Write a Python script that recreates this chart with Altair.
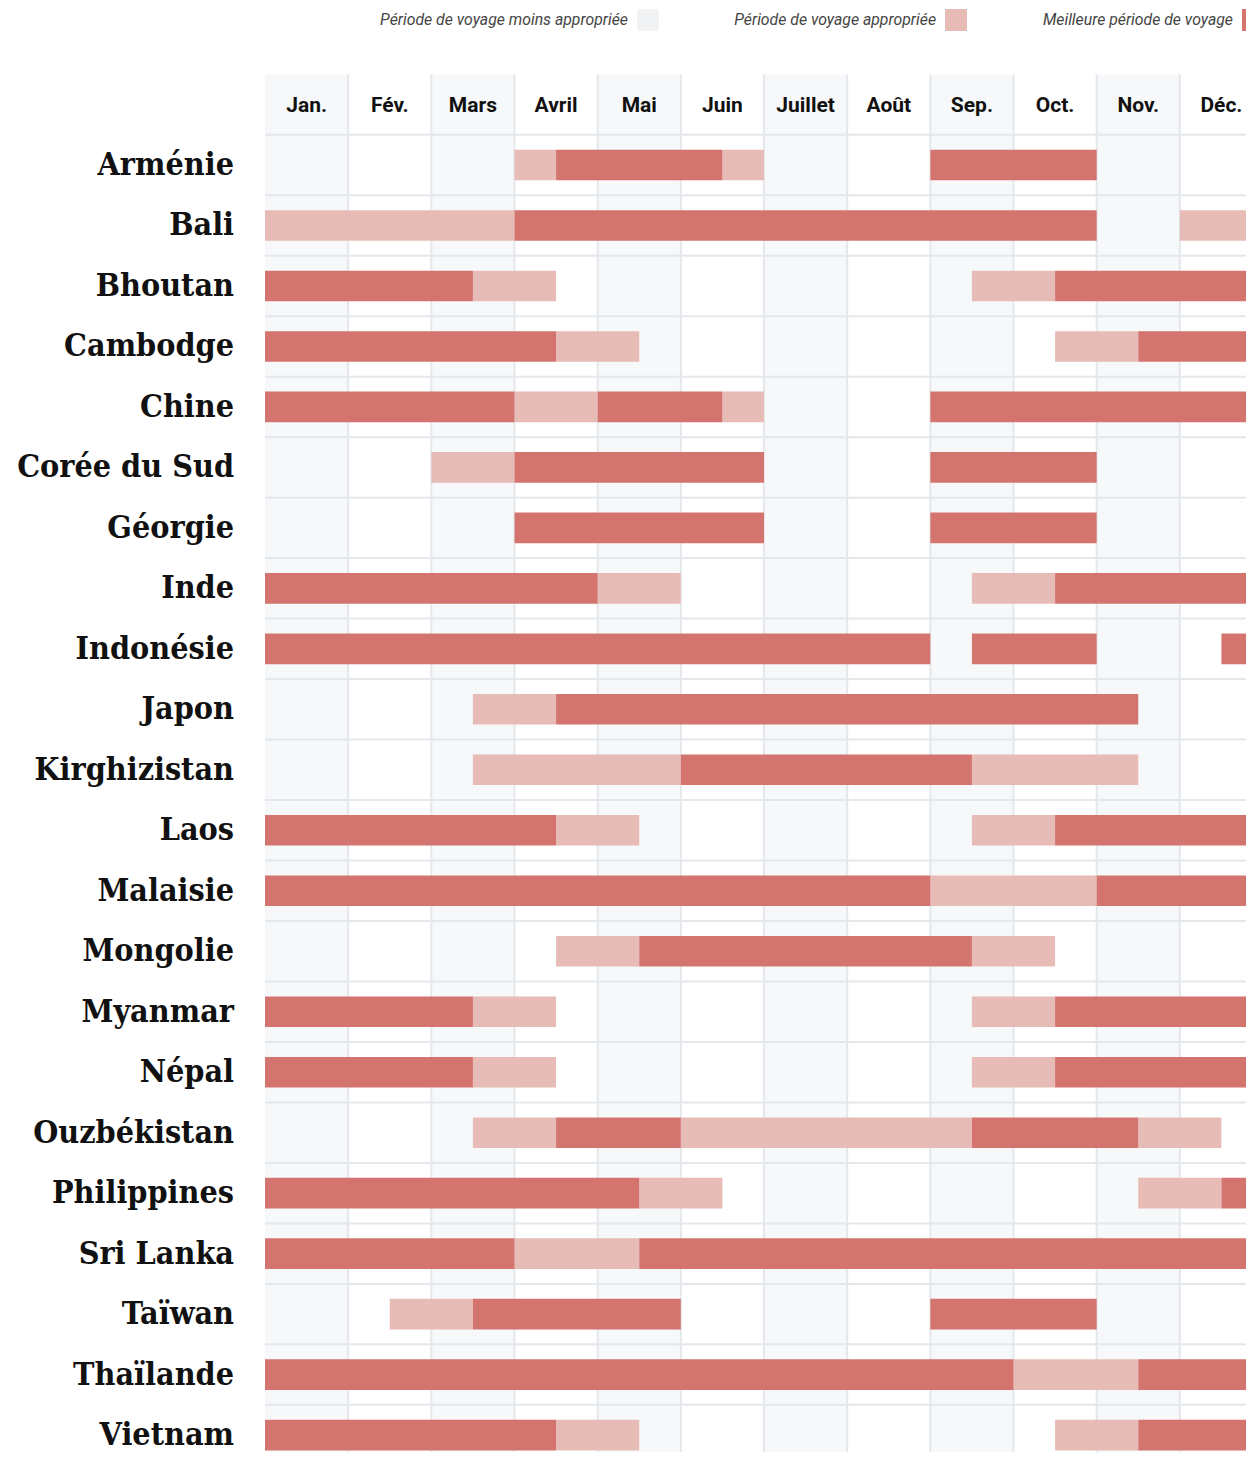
import altair as alt
import pandas as pd

countries = ["Arménie", "Bali", "Bhoutan", "Cambodge", "Chine", "Corée du Sud", "Géorgie",
             "Inde", "Indonésie", "Japon", "Kirghizistan", "Laos", "Malaisie", "Mongolie",
             "Myanmar", "Népal", "Ouzbékistan", "Philippines", "Sri Lanka", "Taïwan",
             "Thaïlande", "Vietnam"]
months = ["Jan.", "Fév.", "Mars", "Avril", "Mai", "Juin", "Juillet", "Août",
          "Sep.", "Oct.", "Nov.", "Déc."]

# (country, start month, end month) ; months counted from 0 = start of January
best_periods = [
    ("Arménie", 3.5, 5.5), ("Arménie", 8, 10),
    ("Bali", 3, 10),
    ("Bhoutan", 0, 2.5), ("Bhoutan", 9.5, 12),
    ("Cambodge", 0, 3.5), ("Cambodge", 10.5, 12),
    ("Chine", 0, 3), ("Chine", 4, 5.5), ("Chine", 8, 12),
    ("Corée du Sud", 3, 6), ("Corée du Sud", 8, 10),
    ("Géorgie", 3, 6), ("Géorgie", 8, 10),
    ("Inde", 0, 4), ("Inde", 9.5, 12),
    ("Indonésie", 0, 8), ("Indonésie", 8.5, 10), ("Indonésie", 11.5, 12),
    ("Japon", 3.5, 10.5),
    ("Kirghizistan", 5, 8.5),
    ("Laos", 0, 3.5), ("Laos", 9.5, 12),
    ("Malaisie", 0, 8), ("Malaisie", 10, 12),
    ("Mongolie", 4.5, 8.5),
    ("Myanmar", 0, 2.5), ("Myanmar", 9.5, 12),
    ("Népal", 0, 2.5), ("Népal", 9.5, 12),
    ("Ouzbékistan", 3.5, 5), ("Ouzbékistan", 8.5, 10.5),
    ("Philippines", 0, 4.5), ("Philippines", 11.5, 12),
    ("Sri Lanka", 0, 3), ("Sri Lanka", 4.5, 12),
    ("Taïwan", 2.5, 5), ("Taïwan", 8, 10),
    ("Thaïlande", 0, 9), ("Thaïlande", 10.5, 12),
    ("Vietnam", 0, 3.5), ("Vietnam", 10.5, 12),
]
good_periods = [
    ("Arménie", 3, 3.5), ("Arménie", 5.5, 6),
    ("Bali", 0, 3), ("Bali", 11, 12),
    ("Bhoutan", 2.5, 3.5), ("Bhoutan", 8.5, 9.5),
    ("Cambodge", 3.5, 4.5), ("Cambodge", 9.5, 10.5),
    ("Chine", 3, 4), ("Chine", 5.5, 6),
    ("Corée du Sud", 2, 3),
    ("Inde", 4, 5), ("Inde", 8.5, 9.5),
    ("Japon", 2.5, 3.5),
    ("Kirghizistan", 2.5, 5), ("Kirghizistan", 8.5, 10.5),
    ("Laos", 3.5, 4.5), ("Laos", 8.5, 9.5),
    ("Malaisie", 8, 10),
    ("Mongolie", 3.5, 4.5), ("Mongolie", 8.5, 9.5),
    ("Myanmar", 2.5, 3.5), ("Myanmar", 8.5, 9.5),
    ("Népal", 2.5, 3.5), ("Népal", 8.5, 9.5),
    ("Ouzbékistan", 2.5, 3.5), ("Ouzbékistan", 5, 8.5), ("Ouzbékistan", 10.5, 11.5),
    ("Philippines", 4.5, 5.5), ("Philippines", 10.5, 11.5),
    ("Sri Lanka", 3, 4.5),
    ("Taïwan", 1.5, 2.5),
    ("Thaïlande", 9, 10.5),
    ("Vietnam", 3.5, 4.5), ("Vietnam", 9.5, 10.5),
]
legend_labels = ["Période de voyage moins appropriée", "Période de voyage appropriée",
                 "Meilleure période de voyage"]

DARK = "#d4746f"
LIGHT = "#e8bcb6"
LESS = "#f2f3f5"
SHADE = "#f7f8fa"
GRID = "#e4e7eb"

row_of = {c: i for i, c in enumerate(countries)}
HALF = 0.253

rows = []
for kind, lst in (("good", good_periods), ("best", best_periods)):
    for c, s, e in lst:
        rows.append({"country": c, "start": s, "end": e, "kind": kind,
                     "top": row_of[c] - HALF, "bottom": row_of[c] + HALF})
seg = pd.DataFrame(rows)

cols = pd.DataFrame({"m": list(range(12)), "label": months})
cols["start"] = cols["m"]
cols["end"] = cols["m"] + 1
cols["mid"] = cols["m"] + 0.5
cols["shade"] = cols["m"] % 2 == 0
cols["top"] = -1.5
cols["bottom"] = 22.5
cols["hdr"] = -1

vlines = pd.DataFrame({"x": list(range(1, 13))})
vlines["top"] = -1.5
vlines["bottom"] = 22.5
hlines = pd.DataFrame({"y": [i + 0.5 for i in range(-1, 22)]})
hlines["x0"] = 0
hlines["x1"] = 12

names = pd.DataFrame({"country": countries, "row": list(range(len(countries)))})

xs = alt.Scale(domain=[0, 12], range=[257, 1255], nice=False, zero=False)
ys = alt.Scale(domain=[0, 21], range=[157, 157 + 60.48 * 21], nice=False, zero=False)

bg = alt.Chart(cols).mark_rect().encode(
    x=alt.X("start:Q", scale=xs, axis=None), x2="end",
    y=alt.Y("top:Q", scale=ys, axis=None), y2="bottom",
    color=alt.condition(alt.datum.shade, alt.value(SHADE), alt.value("white")),
)
vl = alt.Chart(vlines).mark_rule(strokeWidth=2, color=GRID).encode(
    x=alt.X("x:Q", scale=xs, axis=None),
    y=alt.Y("top:Q", scale=ys, axis=None), y2="bottom",
)
hl = alt.Chart(hlines).mark_rule(strokeWidth=2, color=GRID).encode(
    x=alt.X("x0:Q", scale=xs, axis=None), x2="x1",
    y=alt.Y("y:Q", scale=ys, axis=None),
)
bars = alt.Chart(seg).mark_rect().encode(
    x=alt.X("start:Q", scale=xs, axis=None), x2="end",
    y=alt.Y("top:Q", scale=ys, axis=None), y2="bottom",
    color=alt.Color("kind:N", scale=alt.Scale(domain=["good", "best"], range=[LIGHT, DARK]),
                    legend=None),
)
hdr = alt.Chart(cols).mark_text(font="Roboto", fontWeight="bold", fontSize=21,
                                color="#111111", baseline="middle", dy=1).encode(
    x=alt.X("mid:Q", scale=xs, axis=None),
    y=alt.Y("hdr:Q", scale=ys, axis=None),
    text="label:N",
)
lab = alt.Chart(names).mark_text(font="DejaVu Serif Condensed", fontWeight="bold", fontSize=32,
                                 color="#111111", align="right", baseline="middle").encode(
    x=alt.value(226),
    y=alt.Y("row:Q", scale=ys, axis=None),
    text="country:N",
)

one = pd.DataFrame({"a": [0]})
legend_layers = []
for label, col, tx in zip(legend_labels, [LESS, LIGHT, DARK], [620, 928, 1225]):
    legend_layers.append(
        alt.Chart(one).mark_text(text=label, font="Roboto", fontStyle="italic", fontSize=15.8,
                                 color="#444444", align="right", baseline="middle").encode(
            x=alt.value(tx), y=alt.value(12)))
    legend_layers.append(
        alt.Chart(one).mark_rect(color=col).encode(
            x=alt.value(tx + 9), x2=alt.value(tx + 31), y=alt.value(1), y2=alt.value(23)))

chart = alt.layer(bg, vl, hl, bars, hdr, lab, *legend_layers).properties(
    width=1238, height=1444, autosize=alt.AutoSizeParams(type="none"), padding=0,
    background="white",
).configure_view(stroke=None)

chart.save("out.html", embed_options={"renderer": "svg", "actions": False})
